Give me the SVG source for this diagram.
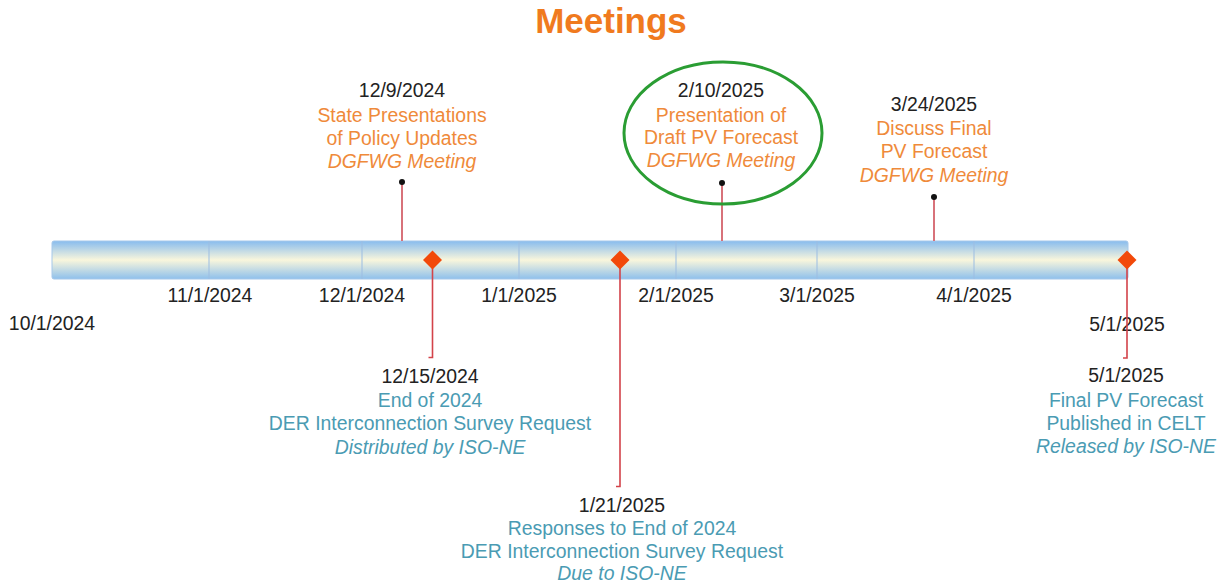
<svg xmlns="http://www.w3.org/2000/svg" width="1219" height="586" viewBox="0 0 1219 586">
<defs>
<linearGradient id="barGrad" x1="0" y1="0" x2="0" y2="1">
<stop offset="0" stop-color="#88bcee"/>
<stop offset="0.5" stop-color="#f9f6dc"/>
<stop offset="1" stop-color="#8ec0ec"/>
</linearGradient>
<style>
text{font-family:"Liberation Sans",Arial,sans-serif;font-size:19.4px;text-anchor:middle}
.title{font-size:35px;font-weight:bold;fill:#f07a1e}
.blk{fill:#222}
.org{fill:#ef8a3a}
.teal{fill:#4a9bb3}
.it{font-style:italic}
.stem{stroke:#d8727a;stroke-width:2;fill:none}
.drop{stroke:#d3434a;stroke-width:1.6;fill:none}
.div{stroke:#9cbde2;stroke-width:1}
.dia{fill:#f2490a}
</style>
</defs>
<rect width="1219" height="586" fill="#ffffff"/>
<text class="title" x="611" y="33">Meetings</text>
<g id="timeline">
<rect x="52" y="241" width="1076" height="38" rx="2" fill="url(#barGrad)" stroke="#a6c8ea" stroke-width="1"/>
<line class="div" x1="209" y1="241" x2="209" y2="279"/>
<line class="div" x1="362" y1="241" x2="362" y2="279"/>
<line class="div" x1="519" y1="241" x2="519" y2="279"/>
<line class="div" x1="676" y1="241" x2="676" y2="279"/>
<line class="div" x1="817" y1="241" x2="817" y2="279"/>
<line class="div" x1="974" y1="241" x2="974" y2="279"/>
</g>
<g id="axis-labels" class="blk">
<text x="52" y="330">10/1/2024</text>
<text x="210" y="302">11/1/2024</text>
<text x="362" y="302">12/1/2024</text>
<text x="519" y="302">1/1/2025</text>
<text x="676" y="302">2/1/2025</text>
<text x="817" y="302">3/1/2025</text>
<text x="974" y="302">4/1/2025</text>
<text x="1127" y="331">5/1/2025</text>
</g>
<g id="connectors">
<line class="stem" x1="402" y1="182" x2="402" y2="241"/>
<line class="stem" x1="722" y1="183" x2="722" y2="241"/>
<line class="stem" x1="934" y1="197" x2="934" y2="241"/>
<path class="drop" d="M432.5 260 V357.5 H428.5"/>
<path class="drop" d="M620 260 V486.5 H616"/>
<path class="drop" d="M1127 260 V358 H1123"/>
</g>
<g id="ev-1209">
<circle cx="402" cy="182" r="3" fill="#111"/>
<text class="blk" x="402" y="97">12/9/2024</text>
<text class="org" x="402" y="122">State Presentations</text>
<text class="org" x="402" y="145">of Policy Updates</text>
<text class="org it" x="402" y="168">DGFWG Meeting</text>
</g>
<g id="ev-0210">
<ellipse cx="723" cy="133" rx="99" ry="71" fill="none" stroke="#2a9d33" stroke-width="3"/>
<circle cx="722" cy="183" r="3" fill="#111"/>
<text class="blk" x="721" y="97">2/10/2025</text>
<text class="org" x="721" y="122">Presentation of</text>
<text class="org" x="721" y="144">Draft PV Forecast</text>
<text class="org it" x="721" y="167">DGFWG Meeting</text>
</g>
<g id="ev-0324">
<circle cx="934" cy="197" r="3" fill="#111"/>
<text class="blk" x="934" y="111">3/24/2025</text>
<text class="org" x="934" y="135">Discuss Final</text>
<text class="org" x="934" y="158">PV Forecast</text>
<text class="org it" x="934" y="182">DGFWG Meeting</text>
</g>
<g id="ev-1215">
<path class="dia" d="M432.5 250.5 L442 260 L432.5 269.5 L423 260 Z"/>
<text class="blk" x="430" y="383">12/15/2024</text>
<text class="teal" x="430" y="407">End of 2024</text>
<text class="teal" x="430" y="430">DER Interconnection Survey Request</text>
<text class="teal it" x="430" y="454">Distributed by ISO-NE</text>
</g>
<g id="ev-0121">
<path class="dia" d="M620 250.5 L629.5 260 L620 269.5 L610.5 260 Z"/>
<text class="blk" x="622" y="512">1/21/2025</text>
<text class="teal" x="622" y="535">Responses to End of 2024</text>
<text class="teal" x="622" y="558">DER Interconnection Survey Request</text>
<text class="teal it" x="622" y="580">Due to ISO-NE</text>
</g>
<g id="ev-0501">
<path class="dia" d="M1127 250.5 L1136.5 260 L1127 269.5 L1117.5 260 Z"/>
<text class="blk" x="1126" y="382">5/1/2025</text>
<text class="teal" x="1126" y="407">Final PV Forecast</text>
<text class="teal" x="1126" y="430">Published in CELT</text>
<text class="teal it" x="1126" y="453">Released by ISO-NE</text>
</g>
</svg>
